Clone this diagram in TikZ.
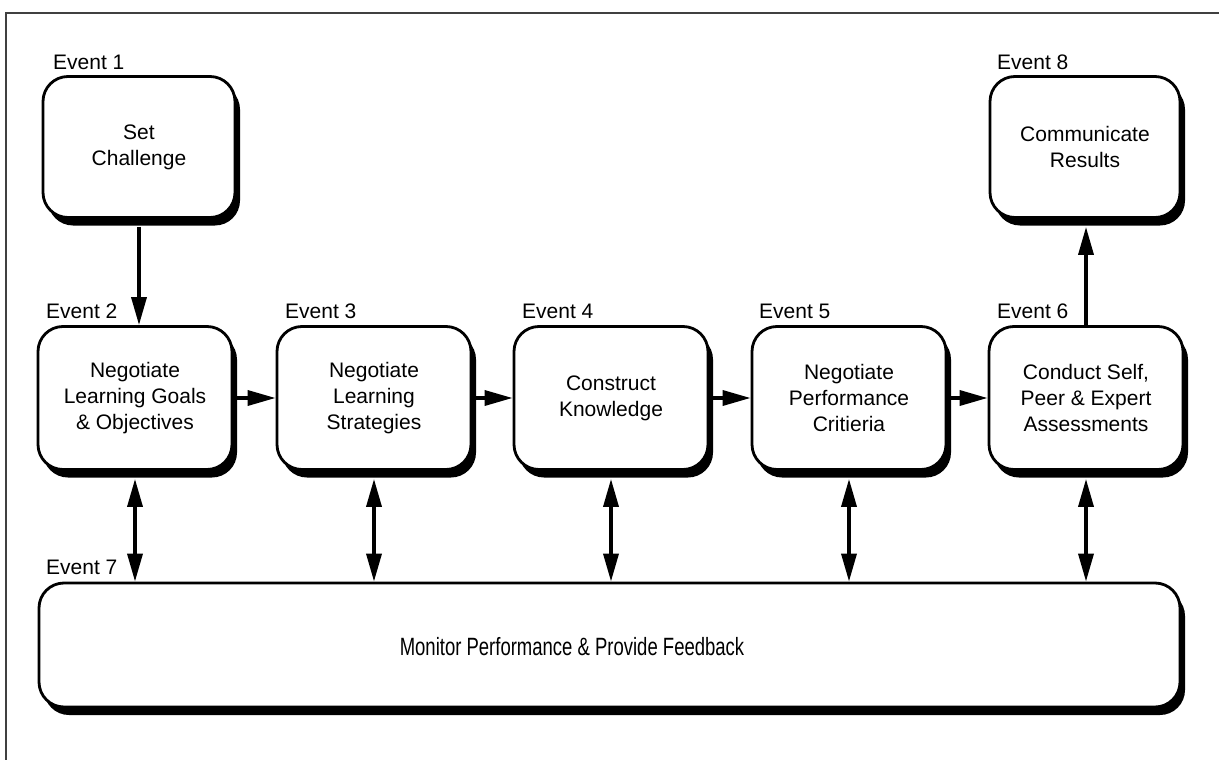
\documentclass[tikz,border=0pt]{standalone}
\usepackage{fontspec}
\setmainfont{Liberation Sans}
\newfontfamily\condfont[FakeStretch=0.74]{Liberation Sans}
\usetikzlibrary{arrows.meta,shadows}

\begin{document}
\begin{tikzpicture}[x=1pt,y=-1pt,
  box/.style={draw, line width=2.8pt, rounded corners=25pt, fill=white, align=center,
    minimum width=194pt, minimum height=143pt, inner sep=0pt,
    font=\fontsize{21}{26}\selectfont,
    drop shadow={shadow xshift=5pt, shadow yshift=-8pt, opacity=1, fill=black}},
  evt/.style={anchor=base west, inner sep=0pt, font=\fontsize{21}{24}\selectfont},
  flow/.style={line width=3.5pt, -{Triangle[length=28pt,width=15pt]}},
  twoway/.style={line width=3.5pt, {Triangle[length=28pt,width=15pt]}-{Triangle[length=28pt,width=15pt]}},
  frame/.style={line width=1.5pt, draw=black!75}
]
\useasboundingbox (0,0) rectangle (1219,760);

% page frame (top and left edges)
\draw[frame] (1219,13) -- (6,13) -- (6,760);

% event boxes
\node[box, minimum width=192pt, minimum height=141pt] (b1) at (139,147) {Set\\Challenge};
\node[box] (b2) at (135,398) {Negotiate\\Learning Goals\\\& Objectives};
\node[box] (b3) at (374,398) {Negotiate\\Learning\\Strategies};
\node[box] (b4) at (611,398) {Construct\\Knowledge};
\node[box] (b5) at (849,398) {Negotiate\\Performance\\Critieria};
\node[box] (b6) at (1086,398) {Conduct Self,\\Peer \& Expert\\Assessments};
\node[box, minimum width=190pt, minimum height=141pt] (b8) at (1085,147) {Communicate\\Results};
\node[box, minimum width=1141pt, minimum height=124pt] (b7) at (609.5,645) {};
\node[inner sep=0pt, font=\condfont\fontsize{25}{28}\selectfont] (b7text) at (572,647)
  {Monitor Performance \& Provide Feedback};

% event labels
\node[evt] (e1) at (53,70) {Event 1};
\node[evt] (e2) at (46,318) {Event 2};
\node[evt] (e3) at (285,318) {Event 3};
\node[evt] (e4) at (522,318) {Event 4};
\node[evt] (e5) at (759,318) {Event 5};
\node[evt] (e6) at (997,318) {Event 6};
\node[evt] (e7) at (46,574) {Event 7};
\node[evt] (e8) at (997,70) {Event 8};

% main flow
\draw[flow] ([yshift=-8pt]b1.south) -- (b1.south |- b2.north);
\draw[flow] (b2.east) -- (b3.west);
\draw[flow] (b3.east) -- (b4.west);
\draw[flow] (b4.east) -- (b5.west);
\draw[flow] (b5.east) -- (b6.west);
\draw[flow] (b6.north) -- ([yshift=-8pt]b8.south -| b6.north);

% monitoring links
\foreach \b in {b2,b3,b4,b5,b6}
  \draw[twoway] ([yshift=-8pt]\b.south) -- (\b.south |- b7.north);
\end{tikzpicture}
\end{document}
